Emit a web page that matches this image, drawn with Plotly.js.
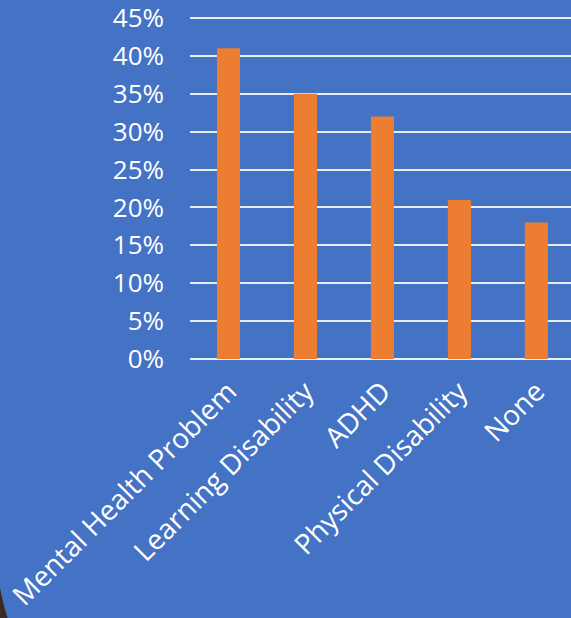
<!DOCTYPE html>
<html>
<head>
<meta charset="utf-8">
<script src="https://cdn.plot.ly/plotly-3.0.1.min.js"></script>
<style>
html,body{margin:0;padding:0;overflow:hidden;background:#4472C4;}
#chart{width:571px;height:618px;}
</style>
</head>
<body>
<div id="chart"></div>
<script>
const categories = ["Mental Health Problem", "Learning Disability", "ADHD", "Physical Disability", "None"];
const values = [0.41, 0.35, 0.32, 0.21, 0.18];
const yTickVals = [0, 0.05, 0.10, 0.15, 0.20, 0.25, 0.30, 0.35, 0.40, 0.45];
const yTickText = ["0%", "5%", "10%", "15%", "20%", "25%", "30%", "35%", "40%", "45%"];

const trace = {
  type: "bar",
  x: categories,
  y: values,
  marker: {color: "#ED7D31"},
  hoverinfo: "none"
};

const layout = {
  width: 571,
  height: 618,
  margin: {l: 190, r: 0, t: 12, b: 259, pad: 0},
  paper_bgcolor: "#4472C4",
  plot_bgcolor: "#4472C4",
  bargap: 0.7,
  showlegend: false,
  font: {family: "Open Sans, sans-serif", color: "#FFFFFF"},
  xaxis: {
    type: "category",
    range: [-0.5, 4.45],
    tickangle: -45,
    tickfont: {size: 28, color: "#FFFFFF"},
    showgrid: false,
    showline: false,
    ticks: "outside",
    ticklen: 4,
    tickcolor: "rgba(0,0,0,0)",
    ticklabeloverflow: "allow",
    fixedrange: true
  },
  yaxis: {
    range: [0, 0.458],
    tickmode: "array",
    tickvals: yTickVals,
    ticktext: yTickText,
    tickfont: {size: 26, color: "#FFFFFF"},
    showgrid: true,
    gridcolor: "#E8ECF4",
    gridwidth: 2,
    zeroline: true,
    zerolinecolor: "#E8ECF4",
    zerolinewidth: 2,
    showline: false,
    ticks: "",
    ticklabelstandoff: 25,
    ticklabeloverflow: "allow",
    fixedrange: true
  },
  shapes: [{
    type: "path",
    xref: "paper", yref: "paper",
    path: "M -0.4987 -0.66 Q -0.49 -0.71 -0.4777 -0.75 L -0.4987 -0.75 Z",
    fillcolor: "#3a2a20",
    line: {width: 0}
  }]
};

Plotly.newPlot("chart", [trace], layout, {staticPlot: true, displayModeBar: false});
</script>
</body>
</html>
